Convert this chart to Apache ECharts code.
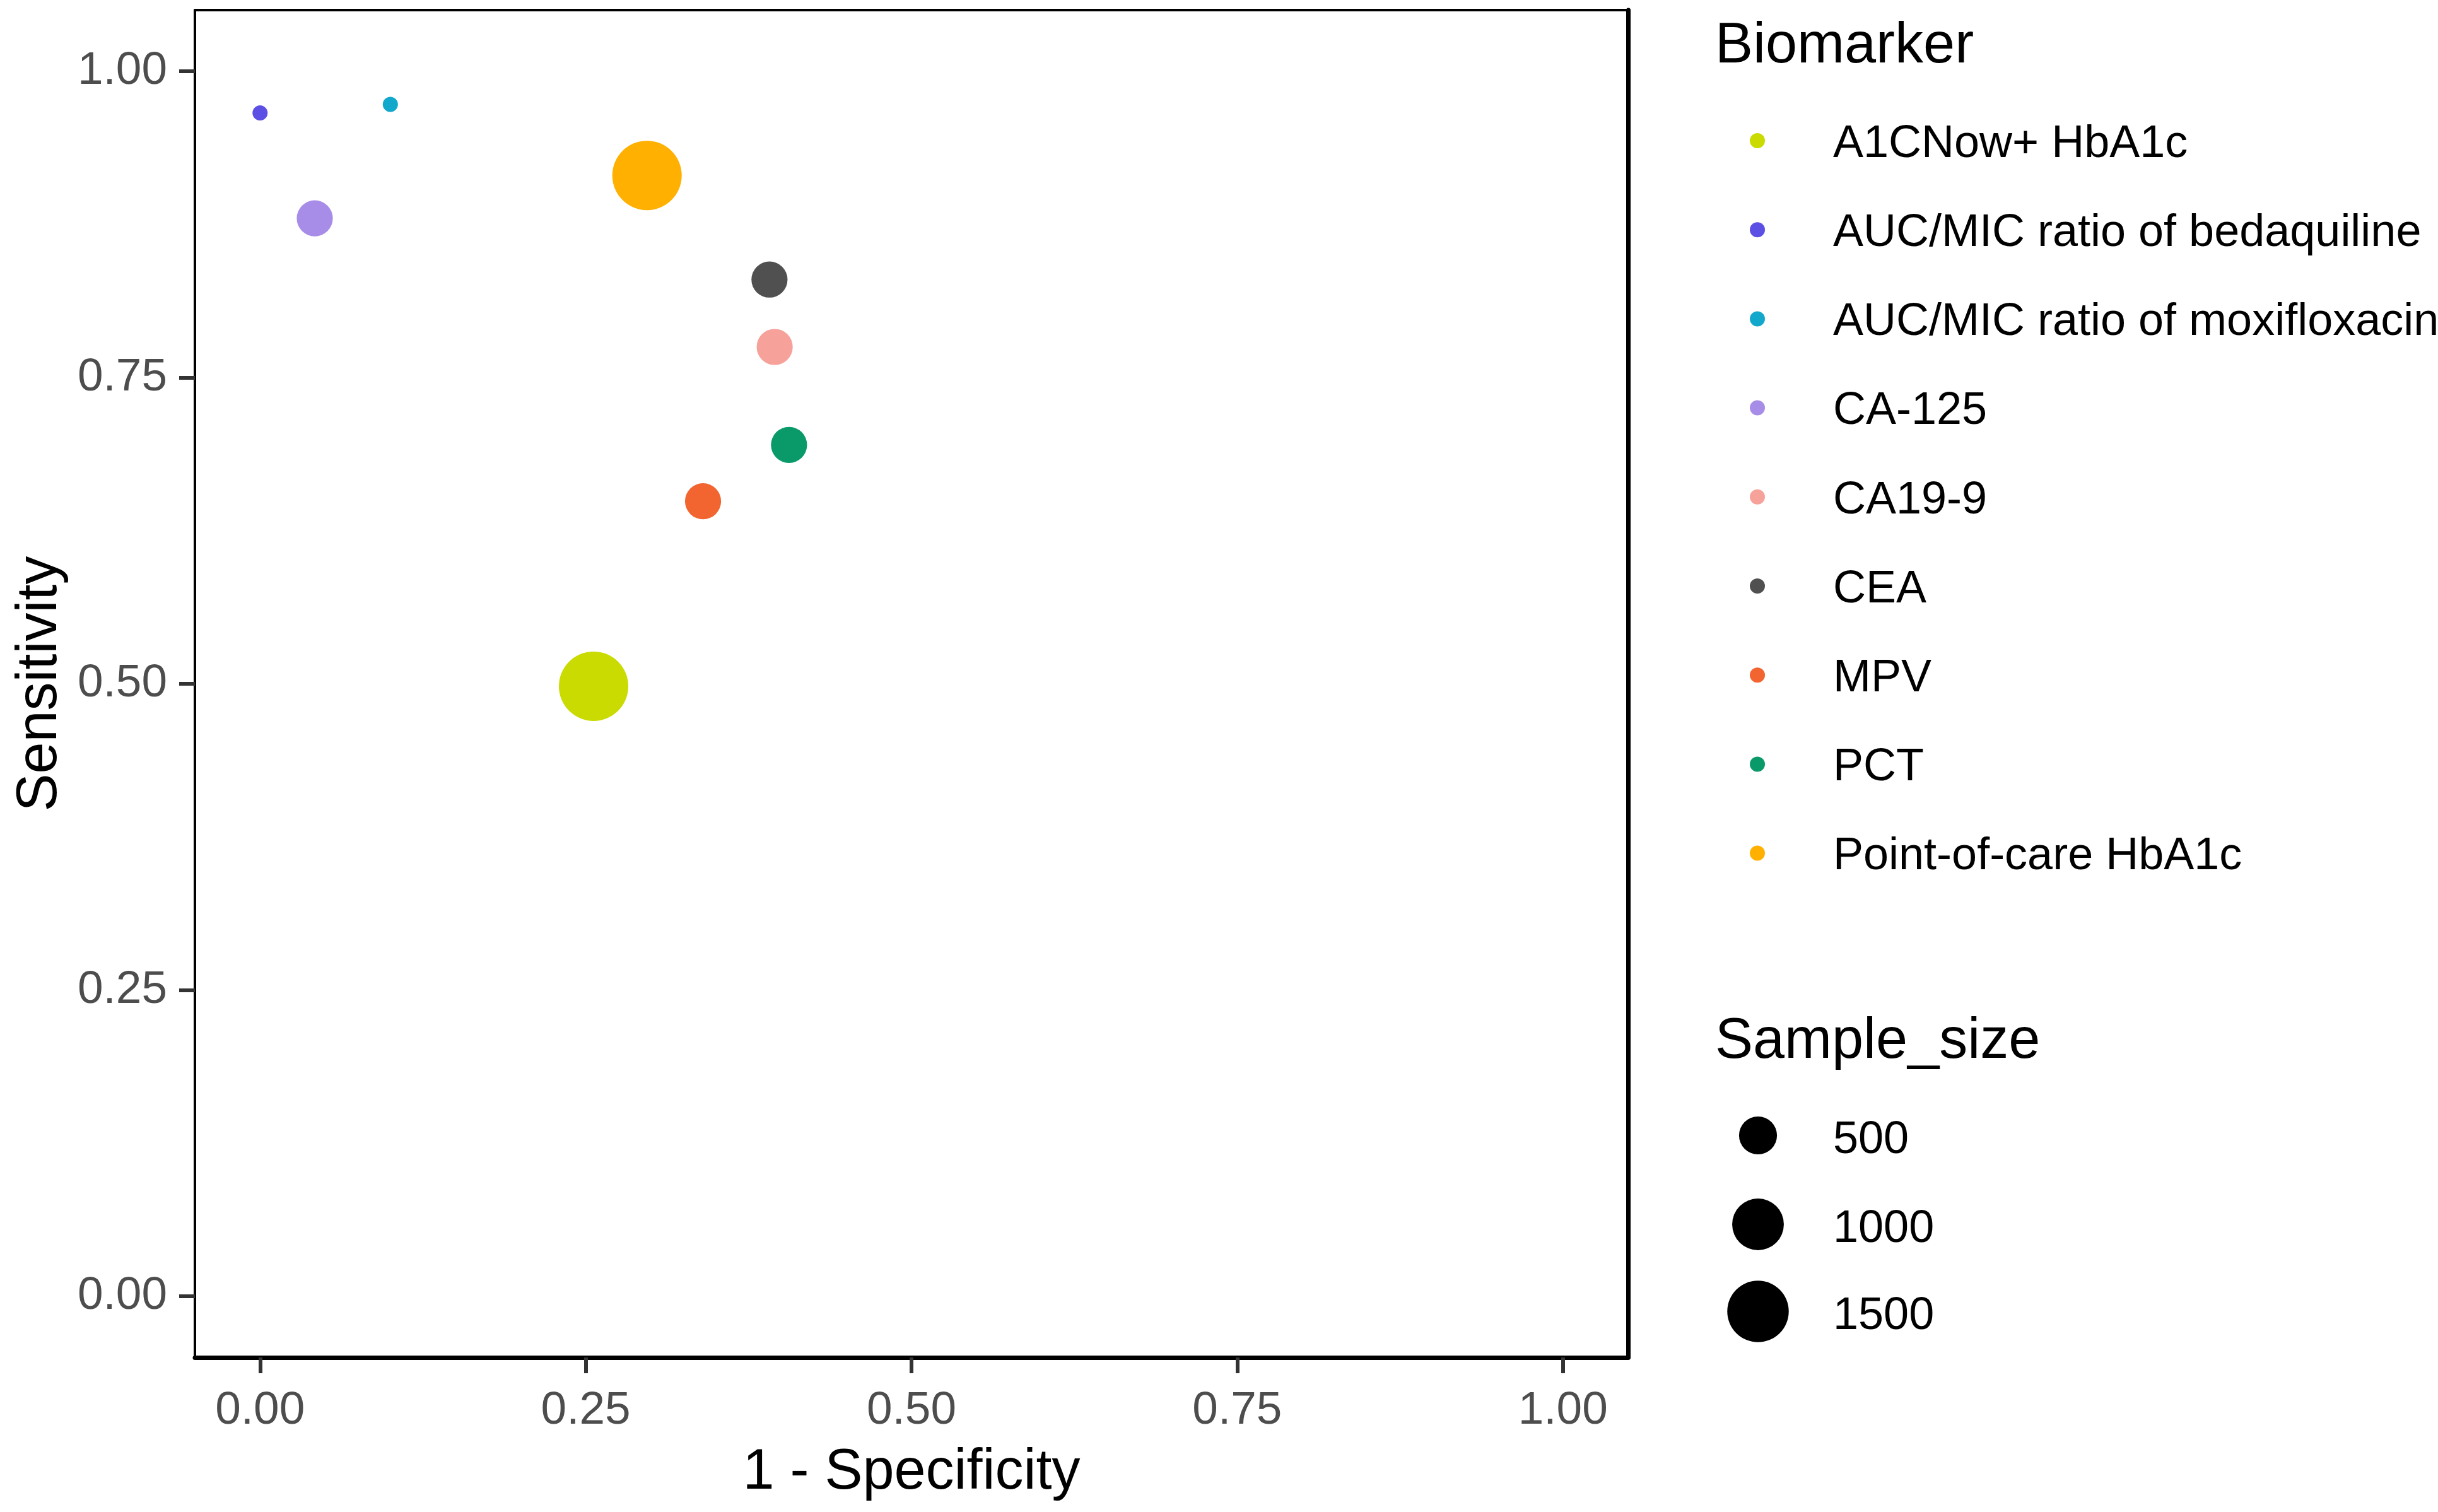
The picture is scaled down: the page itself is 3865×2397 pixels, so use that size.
<!DOCTYPE html>
<html>
<head>
<meta charset="utf-8">
<script src="https://cdn.jsdelivr.net/npm/echarts@6/dist/echarts.min.js"></script>
<style>
html,body{margin:0;padding:0;background:#fff;}
#chart{width:3865px;height:2397px;}
</style>
</head>
<body>
<div id="chart"></div>
<script>
// ---- data ----
const biomarkers = ["A1CNow+ HbA1c", "AUC/MIC ratio of bedaquiline", "AUC/MIC ratio of moxifloxacin",
  "CA-125", "CA19-9", "CEA", "MPV", "PCT", "Point-of-care HbA1c"];
const oneMinusSpecificity = [0.256, 0.000, 0.100, 0.042, 0.395, 0.391, 0.340, 0.406, 0.297];
const sensitivity = [0.498, 0.966, 0.973, 0.880, 0.775, 0.830, 0.649, 0.695, 0.915];
const sampleSize = [1990, 180, 180, 450, 450, 450, 450, 450, 1990];
const sizeBreaks = [500, 1000, 1500];
const axisTicks = [0, 0.25, 0.5, 0.75, 1.0];

// ---- styles ----
const colors = ["#C9DB00", "#5B50E3", "#12A8CC", "#A88DE8", "#F7A19B", "#505050", "#F26430", "#0A9A6A", "#FFB000"];
const FONT = "'Liberation Sans', Arial, sans-serif";
const dMin = 24, dMax = 110;
const sMin = Math.min(...sampleSize), sMax = Math.max(...sampleSize);
function sizeOf(v) { return dMin + (dMax - dMin) * Math.sqrt(Math.max(0, (v - sMin) / (sMax - sMin))); }

const chart = echarts.init(document.getElementById('chart'), null, {renderer: 'canvas'});

const series = biomarkers.map((name, i) => ({
  name: name,
  type: 'scatter',
  xAxisIndex: 0, yAxisIndex: 0,
  data: [[oneMinusSpecificity[i], sensitivity[i], sampleSize[i]]],
  symbol: 'circle',
  symbolSize: function (val) { return sizeOf(val[2]); },
  itemStyle: {color: colors[i], opacity: 1},
  emphasis: {disabled: true},
  z: 3
}));

const axisCommon = {
  type: 'value', min: -0.05, max: 1.05,
  splitLine: {show: false}
};

// ---- legends (drawn as graphics) ----
const keyX = 2786, textX = 2906;
const legendGraphics = [
  {type: 'text', x: 2719, y: 74, style: {text: 'Biomarker', font: '90px ' + FONT, fill: '#000', verticalAlign: 'middle'}},
  {type: 'text', x: 2719, y: 1652, style: {text: 'Sample_size', font: '90px ' + FONT, fill: '#000', verticalAlign: 'middle'}}
];
const itemTop = 223, itemStep = 141.2;
biomarkers.forEach((name, i) => {
  const cy = itemTop + i * itemStep;
  legendGraphics.push({type: 'circle', shape: {cx: keyX, cy: cy, r: 12}, style: {fill: colors[i]}});
  legendGraphics.push({type: 'text', x: textX, y: cy + 6,
    style: {text: name, font: '72px ' + FONT, fill: '#000', verticalAlign: 'middle', align: 'left'}});
});
const sizeKeyY = [1800, 1941, 2079];
sizeBreaks.forEach((b, i) => {
  const r = sizeOf(b) / 2;
  legendGraphics.push({type: 'circle', shape: {cx: 2787, cy: sizeKeyY[i], r: r}, style: {fill: '#000'}});
  legendGraphics.push({type: 'text', x: textX, y: sizeKeyY[i] + 8,
    style: {text: String(b), font: '72px ' + FONT, fill: '#000', verticalAlign: 'middle', align: 'left'}});
});

chart.setOption({
  animation: false,
  backgroundColor: '#ffffff',
  textStyle: {fontFamily: FONT},
  grid: {left: 309, right: 1284, top: 16, bottom: 245, show: false},
  xAxis: [
    Object.assign({}, axisCommon, {
      position: 'bottom',
      name: '1 - Specificity', nameLocation: 'middle', nameGap: 138,
      nameTextStyle: {fontSize: 90, color: '#000', fontFamily: FONT},
      axisLine: {show: true, onZero: false, lineStyle: {color: '#000', width: 7}},
      axisTick: {show: true, length: 25, lineStyle: {color: '#333', width: 6}, customValues: axisTicks},
      axisLabel: {show: true, margin: 48, fontSize: 73, color: '#4D4D4D', fontFamily: FONT,
        customValues: axisTicks, formatter: v => v.toFixed(2)}
    }),
    Object.assign({}, axisCommon, {
      position: 'top',
      axisLine: {show: true, onZero: false, lineStyle: {color: '#000', width: 4}},
      axisTick: {show: false}, axisLabel: {show: false}
    })
  ],
  yAxis: [
    Object.assign({}, axisCommon, {
      position: 'left',
      name: 'Sensitivity', nameLocation: 'middle', nameGap: 200,
      nameTextStyle: {fontSize: 90, color: '#000', fontFamily: FONT},
      axisLine: {show: true, onZero: false, lineStyle: {color: '#000', width: 4}},
      axisTick: {show: true, length: 25, lineStyle: {color: '#333', width: 6}, customValues: axisTicks},
      axisLabel: {show: true, margin: 44, fontSize: 73, color: '#4D4D4D', fontFamily: FONT,
        customValues: axisTicks, formatter: v => v.toFixed(2)}
    }),
    Object.assign({}, axisCommon, {
      position: 'right',
      axisLine: {show: true, onZero: false, lineStyle: {color: '#000', width: 7}},
      axisTick: {show: false}, axisLabel: {show: false}
    })
  ],
  graphic: legendGraphics,
  series: series
});
</script>
</body>
</html>
